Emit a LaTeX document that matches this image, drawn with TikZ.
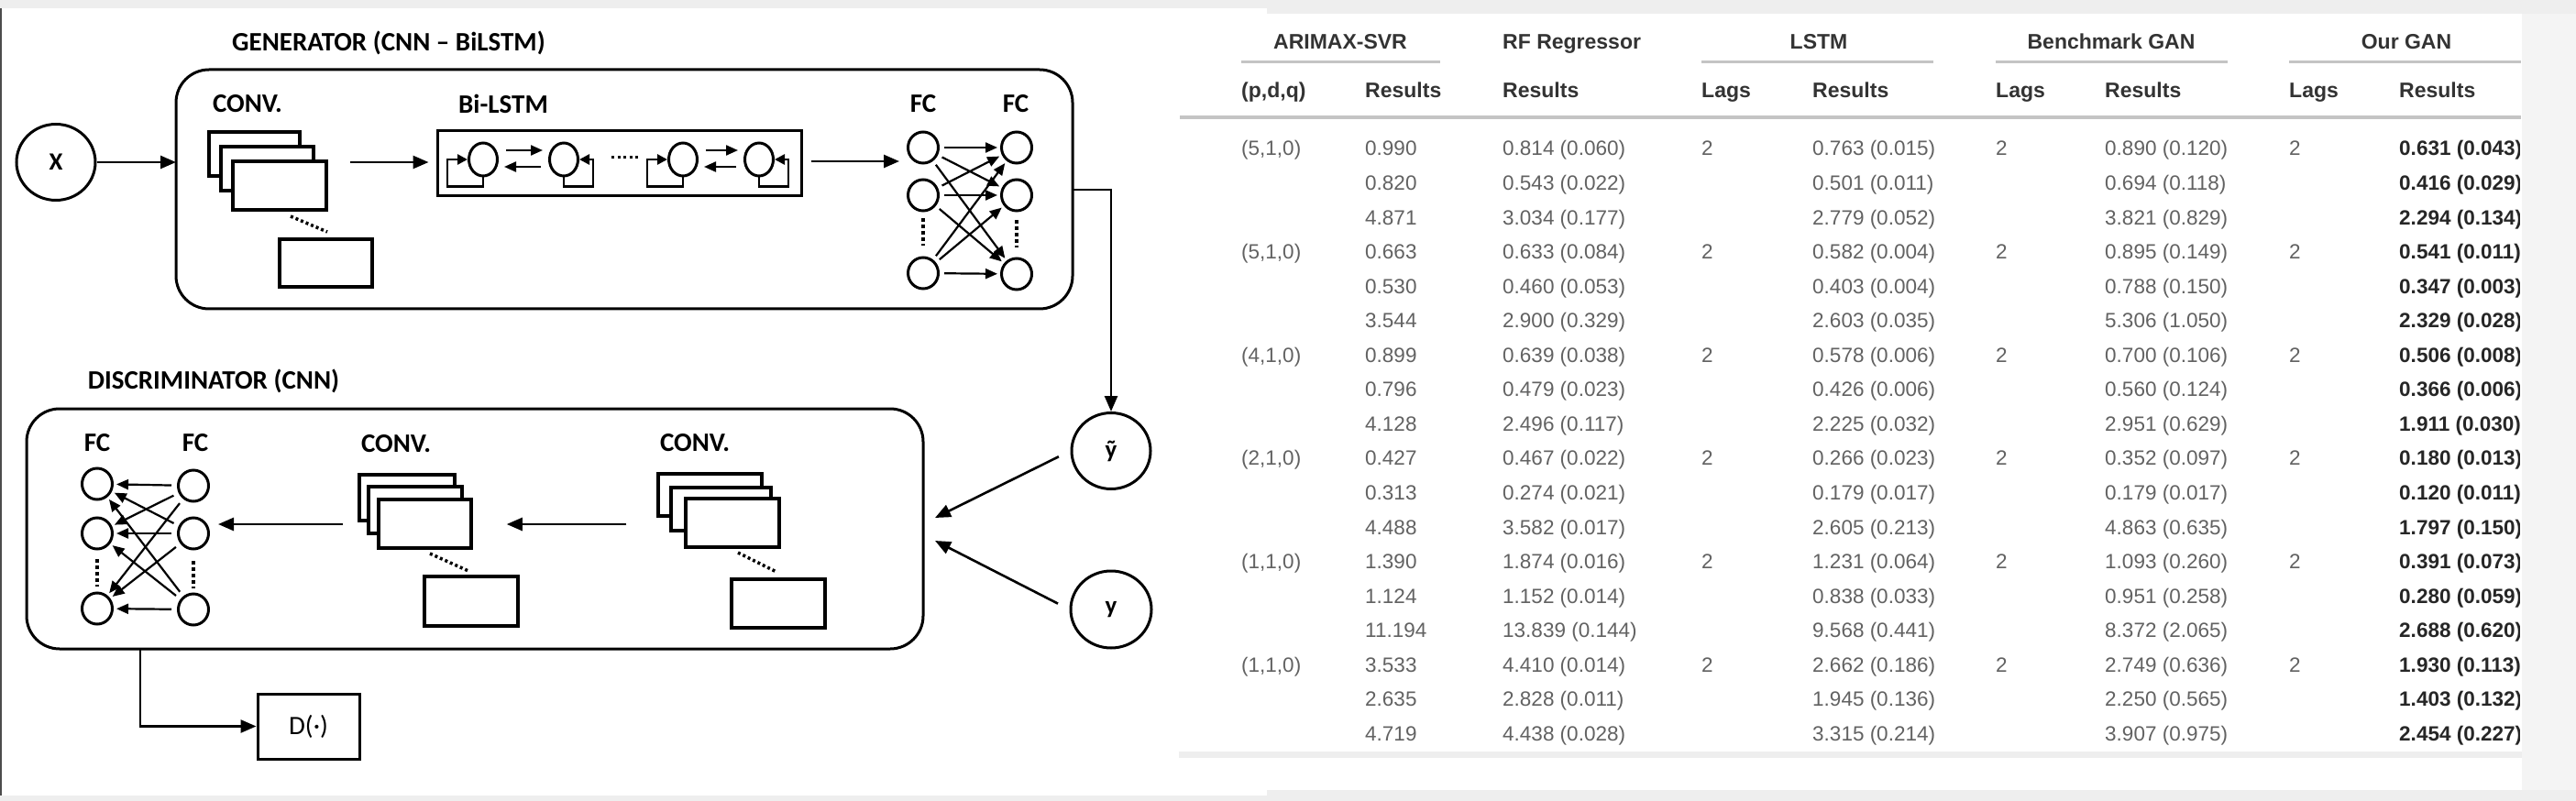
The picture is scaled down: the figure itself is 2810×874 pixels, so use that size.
\documentclass[tikz,border=0pt]{standalone}
\usepackage{fontspec}
\setmainfont{Carlito}
\newfontfamily\tabfont{Liberation Sans}
\usetikzlibrary{arrows.meta,shapes.geometric,calc}
\definecolor{bandgrey}{HTML}{EEEEEE}
\definecolor{datagrey}{HTML}{626262}
\definecolor{headgrey}{HTML}{333333}
\definecolor{boldgrey}{HTML}{262626}
\definecolor{rulegrey}{HTML}{C4C4C4}
\definecolor{edgegrey}{HTML}{F4F4F4}
\tikzset{
 lbl/.style={font=\fontsize{29}{30}\selectfont\bfseries, inner sep=0pt},
 bigbox/.style={draw, line width=3pt, rounded corners=36pt, inner sep=0pt},
 plate/.style={draw, line width=3.5pt, fill=white, inner sep=0pt},
 neuron/.style={draw, ellipse, line width=3pt, minimum width=33pt, minimum height=34pt, inner sep=0pt},
 cell/.style={draw, ellipse, line width=3pt, minimum width=31pt, minimum height=36pt, inner sep=0pt},
 io/.style={draw, ellipse, line width=3pt, minimum width=86pt, minimum height=83pt, inner sep=0pt, font=\fontsize{27}{28}\selectfont\bfseries},
 arr/.style={line width=2.6pt, -{Triangle[length=17pt,width=14pt]}},
 sarr/.style={line width=2.2pt, -{Triangle[length=13pt,width=11pt]}},
 loopln/.style={line width=2.6pt, -{Triangle[length=11pt,width=11pt]}},
 dotln/.style={line width=3.5pt, dash pattern=on 3pt off 3pt},
 tcell/.style={anchor=west, inner sep=0pt, text height=16pt, text depth=0pt, font=\tabfont\fontsize{22.5}{24}\selectfont, text=datagrey},
 tbold/.style={tcell, font=\tabfont\fontsize{22.5}{24}\selectfont\bfseries, text=boldgrey},
 thead/.style={inner sep=0pt, text height=17pt, text depth=0pt, font=\tabfont\fontsize{23}{24}\selectfont\bfseries, text=headgrey},
 grule/.style={line width=3pt, rulegrey},
}
\newcommand\tabrow[6]{%
 \pgfmathsetmacro\ry{162+37.55*(#1-1)}%
 \node[tcell] (r#1b) at (1489,\ry) {#2};
 \node[tcell] (r#1c) at (1639,\ry) {#3};
 \node[tcell] (r#1e) at (1977,\ry) {#4};
 \node[tcell] (r#1g) at (2296,\ry) {#5};
 \begin{scope}
 \clip (2400,0) rectangle (2748,874);
 \node[tbold] (r#1i) at (2617,\ry) {#6};
 \end{scope}
}
\newcommand\lagrow[2]{%
 \pgfmathsetmacro\ry{162+37.55*(#1-1)}%
 \node[tcell] (r#1a) at (1354,\ry) {#2};
 \node[tcell] (r#1d) at (1856,\ry) {2};
 \node[tcell] (r#1f) at (2177,\ry) {2};
 \node[tcell] (r#1h) at (2497,\ry) {2};
}
\begin{document}
\begin{tikzpicture}[x=1pt,y=-1pt]
% background
\fill[white] (0,0) rectangle (2810,874);
\fill[bandgrey] (0,0) rectangle (2810,9);
\fill[bandgrey] (1382,0) rectangle (2810,15);
\fill[bandgrey] (0,868) rectangle (2810,874);
\fill[bandgrey] (1382,862) rectangle (2810,874);
\fill[edgegrey] (2751,15) rectangle (2810,862);
\fill[bandgrey] (1286,820) rectangle (2751,827);
\draw[line width=2pt, black!70] (1,9) -- (1,868);
\useasboundingbox (0,0) rectangle (2810,874);

% ================= GENERATOR =================
\node[lbl] (gtitle) at (424,47) {GENERATOR (CNN – BiLSTM)};
\node[bigbox, minimum width=978pt, minimum height=261pt] (gen) at (681,206.5) {};
\node[io] (X) at (61,177) {X};
\coordinate (genin) at (192,177);
\draw[arr] (X) -- (genin);

\node[lbl] (gconvl) at (270,113) {CONV.};
\node[plate, minimum width=99pt, minimum height=48pt] (ga1) at (277.5,168) {};
\node[plate, minimum width=101pt, minimum height=48pt] (ga2) at (291.5,184) {};
\node[plate, minimum width=102pt, minimum height=53pt] (ga3) at (305,202.5) {};
\node[plate, minimum width=101pt, minimum height=52pt] (ga4) at (355.5,287) {};
\draw[dotln] (317,236) -- (357,253);

\node[lbl] (glstml) at (549,113) {Bi-LSTM};
\node[draw, line width=3pt, minimum width=397pt, minimum height=71pt, inner sep=0pt] (lstm) at (675.5,178.5) {};
\draw[arr, shorten <=24pt, shorten >=8pt] (ga3.east |- X) -- (lstm.west |- X);

\node[cell] (c1) at (527,174) {};
\node[cell] (c2) at (615,174) {};
\node[cell] (c3) at (745,174) {};
\node[cell] (c4) at (828,174) {};
\foreach \p/\q in {c1/c2,c3/c4}{
  \draw[sarr, shorten <=8pt, shorten >=6pt] ([yshift=10pt]\p.east) -- ([yshift=10pt]\q.west);
  \draw[sarr, shorten <=8pt, shorten >=6pt] ([yshift=-8pt]\q.west) -- ([yshift=-8pt]\p.east);
}
\foreach \p in {c1,c3}
  \draw[loopln] (\p.south) -- ++(0,10) -| ($(\p.west)+(-22,0)$) -- (\p.west);
\foreach \p in {c2,c4}
  \draw[loopln] (\p.south) -- ++(0,10) -| ($(\p.east)+(15,0)$) -- (\p.east);
\draw[line width=3pt, dash pattern=on 3pt off 3.5pt] (667,172) -- (697,172);

\node[lbl] (gfcl1) at (1007,113) {FC};
\node[lbl] (gfcl2) at (1108,113) {FC};
\node[neuron] (gf1) at (1007,161) {};
\node[neuron] (gf2) at (1007,213) {};
\node[neuron] (gf3) at (1007,298) {};
\node[neuron] (gg1) at (1109,161) {};
\node[neuron] (gg2) at (1109,213) {};
\node[neuron] (gg3) at (1109,299) {};
\draw[dotln, dash pattern=on 4pt off 3pt] (1007,238) -- (1007,268);
\draw[dotln, dash pattern=on 4pt off 3pt] (1109,240) -- (1109,270);
\coordinate (lrow) at (0,176);
\draw[arr, shorten <=9pt, shorten >=8pt] (lstm.east |- lrow) -- (gf1.west |- lrow);
\foreach \i in {1,2,3}
  \foreach \j in {1,2,3}
    \draw[sarr, shorten <=5pt, shorten >=3pt] (gf\i) -- (gg\j);

% ================= DISCRIMINATOR =================
\node[lbl] (dtitle) at (233,416) {DISCRIMINATOR (CNN)};
\node[bigbox, minimum width=978pt, minimum height=262pt] (disc) at (518,577) {};

\node[lbl] (dfcl1) at (106,483) {FC};
\node[lbl] (dfcl2) at (213,483) {FC};
\node[neuron] (df1) at (106,528) {};
\node[neuron] (df2) at (106,582) {};
\node[neuron] (df3) at (106,664) {};
\node[neuron] (dg1) at (211,530) {};
\node[neuron] (dg2) at (211,582) {};
\node[neuron] (dg3) at (211,665) {};
\draw[dotln, dash pattern=on 4pt off 3pt] (106,610) -- (106,640);
\draw[dotln, dash pattern=on 4pt off 3pt] (211,612) -- (211,642);
\foreach \i in {1,2,3}
  \foreach \j in {1,2,3}
    \draw[sarr, shorten <=6pt, shorten >=3pt] (dg\i) -- (df\j);

\node[lbl] (dconvl1) at (432,484) {CONV.};
\node[plate, minimum width=104pt, minimum height=50pt] (da1) at (444,543) {};
\node[plate, minimum width=102pt, minimum height=51pt] (da2) at (453,556.5) {};
\node[plate, minimum width=101pt, minimum height=53pt] (da3) at (463.5,571.5) {};
\node[plate, minimum width=102pt, minimum height=54pt] (da4) at (514,656) {};
\draw[dotln] (469,604) -- (511,623);

\node[lbl] (dconvl2) at (758,483) {CONV.};
\node[plate, minimum width=113pt, minimum height=46pt] (db1) at (774.5,540) {};
\node[plate, minimum width=109pt, minimum height=47pt] (db2) at (786.5,555.5) {};
\node[plate, minimum width=102pt, minimum height=53pt] (db3) at (799,570.5) {};
\node[plate, minimum width=102pt, minimum height=53pt] (db4) at (849,658.5) {};
\draw[dotln] (805,603) -- (847,624);

\coordinate (dmid) at (0,572);
\draw[arr, shorten <=37pt, shorten >=9pt] (da3.west |- dmid) -- (dg2.east |- dmid);
\draw[arr, shorten <=33pt, shorten >=37pt] (db1.west |- dmid) -- (da3.east |- dmid);

\node[io] (yt) at (1212,492) {ỹ};
\node[io, minimum width=88pt, minimum height=84pt] (yr) at (1212,665) {y};
\coordinate (gout) at (1170,207);
\draw[arr] (gout) -| (yt.north);
\coordinate (din1) at (1020,565);
\coordinate (din2) at (1020,590);
\draw[arr, shorten <=14pt] (yt.west) -- (din1);
\draw[arr, shorten <=14pt] (yr.west) -- (din2);

\node[draw, line width=3pt, minimum width=111pt, minimum height=71pt, inner sep=0pt, font=\fontsize{29}{30}\selectfont] (dbox) at (336.5,792.5) {D(·)};
\coordinate (dtap) at (153,708);
\draw[arr] (dtap) |- (dbox.west);

% ================= TABLE =================
\node[thead] (h1a) at (1462,45) {ARIMAX-SVR};
\node[thead, anchor=west] (h1b) at (1639,45) {RF Regressor};
\node[thead] (h1c) at (1984,45) {LSTM};
\node[thead] (h1d) at (2303,45) {Benchmark GAN};
\node[thead] (h1e) at (2625,45) {Our GAN};
\draw[grule] (1354,68) -- (1571,68);
\draw[grule] (1856,68) -- (2109,68);
\draw[grule] (2177,68) -- (2430,68);
\draw[grule] (2497,68) -- (2750,68);
\node[thead, anchor=west] (h2a) at (1354,98) {(p,d,q)};
\node[thead, anchor=west] (h2b) at (1489,98) {Results};
\node[thead, anchor=west] (h2c) at (1639,98) {Results};
\node[thead, anchor=west] (h2d) at (1856,98) {Lags};
\node[thead, anchor=west] (h2e) at (1977,98) {Results};
\node[thead, anchor=west] (h2f) at (2177,98) {Lags};
\node[thead, anchor=west] (h2g) at (2296,98) {Results};
\node[thead, anchor=west] (h2h) at (2497,98) {Lags};
\node[thead, anchor=west] (h2i) at (2617,98) {Results};
\draw[line width=4pt, rulegrey] (1287,128) -- (2750,128);

\lagrow{1}{(5,1,0)}
\tabrow{1}{0.990}{0.814 (0.060)}{0.763 (0.015)}{0.890 (0.120)}{0.631 (0.043)}
\tabrow{2}{0.820}{0.543 (0.022)}{0.501 (0.011)}{0.694 (0.118)}{0.416 (0.029)}
\tabrow{3}{4.871}{3.034 (0.177)}{2.779 (0.052)}{3.821 (0.829)}{2.294 (0.134)}
\lagrow{4}{(5,1,0)}
\tabrow{4}{0.663}{0.633 (0.084)}{0.582 (0.004)}{0.895 (0.149)}{0.541 (0.011)}
\tabrow{5}{0.530}{0.460 (0.053)}{0.403 (0.004)}{0.788 (0.150)}{0.347 (0.003)}
\tabrow{6}{3.544}{2.900 (0.329)}{2.603 (0.035)}{5.306 (1.050)}{2.329 (0.028)}
\lagrow{7}{(4,1,0)}
\tabrow{7}{0.899}{0.639 (0.038)}{0.578 (0.006)}{0.700 (0.106)}{0.506 (0.008)}
\tabrow{8}{0.796}{0.479 (0.023)}{0.426 (0.006)}{0.560 (0.124)}{0.366 (0.006)}
\tabrow{9}{4.128}{2.496 (0.117)}{2.225 (0.032)}{2.951 (0.629)}{1.911 (0.030)}
\lagrow{10}{(2,1,0)}
\tabrow{10}{0.427}{0.467 (0.022)}{0.266 (0.023)}{0.352 (0.097)}{0.180 (0.013)}
\tabrow{11}{0.313}{0.274 (0.021)}{0.179 (0.017)}{0.179 (0.017)}{0.120 (0.011)}
\tabrow{12}{4.488}{3.582 (0.017)}{2.605 (0.213)}{4.863 (0.635)}{1.797 (0.150)}
\lagrow{13}{(1,1,0)}
\tabrow{13}{1.390}{1.874 (0.016)}{1.231 (0.064)}{1.093 (0.260)}{0.391 (0.073)}
\tabrow{14}{1.124}{1.152 (0.014)}{0.838 (0.033)}{0.951 (0.258)}{0.280 (0.059)}
\tabrow{15}{11.194}{13.839 (0.144)}{9.568 (0.441)}{8.372 (2.065)}{2.688 (0.620)}
\lagrow{16}{(1,1,0)}
\tabrow{16}{3.533}{4.410 (0.014)}{2.662 (0.186)}{2.749 (0.636)}{1.930 (0.113)}
\tabrow{17}{2.635}{2.828 (0.011)}{1.945 (0.136)}{2.250 (0.565)}{1.403 (0.132)}
\tabrow{18}{4.719}{4.438 (0.028)}{3.315 (0.214)}{3.907 (0.975)}{2.454 (0.227)}
\end{tikzpicture}
\end{document}
